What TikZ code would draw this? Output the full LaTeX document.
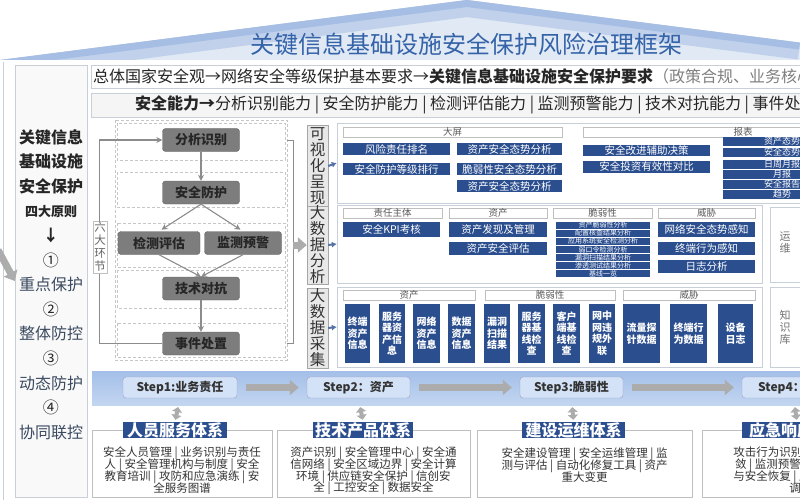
\documentclass[tikz,border=0pt]{standalone}
\usepackage{fontspec}
\setmainfont{Noto Sans CJK SC}
\usetikzlibrary{arrows.meta, positioning, calc}

\definecolor{barblue}{HTML}{2B4E8F}
\definecolor{roofblue}{HTML}{A6BEE3}
\definecolor{rooflight}{HTML}{E1E9F5}
\definecolor{titleblue}{HTML}{3463A8}
\definecolor{framegray}{HTML}{C9CFD8}
\definecolor{nodegray}{HTML}{7D7D7D}
\definecolor{linegray}{HTML}{8C8C8C}
\definecolor{stepblue}{HTML}{D3E2F6}
\definecolor{bandtop}{HTML}{A3BFE8}
\definecolor{bandbot}{HTML}{C3D6F1}
\definecolor{slate}{HTML}{3B4A60}
\newcommand{\fsz}[1]{\fontsize{#1}{#1}\selectfont}
% tight lines for stacked text
\newcommand{\tightfsz}[2]{\fontsize{#1}{#2}\selectfont\lineskiplimit=-30pt\lineskip=0pt}

\begin{document}
\begin{tikzpicture}[x=1pt, y=-1pt,
  flownode/.style = {draw=nodegray!80!black, fill=nodegray, rounded corners=3pt, minimum width=77pt, minimum height=23pt, inner sep=0pt, font=\fsz{13}\bfseries, text=black!85},
  flowarrow/.style = {-{Stealth[length=6pt,width=6pt]}, draw=linegray, line width=1.1pt},
  band/.style = {draw=gray!45, dash pattern=on 3pt off 2pt},
  bluebar/.style = {fill=barblue, text=white, inner sep=0pt, font=\fsz{10.5}},
  headbox/.style = {draw=gray!50, fill=white, inner sep=0pt, minimum height=10pt, font=\fsz{9.5}, text=black!65},
  sidelabel/.style = {draw=gray!70, fill=gray!18, inner sep=0pt, minimum width=21pt, align=center, font=\tightfsz{15.5}{16}, text=black!80},
  panel/.style = {draw=framegray, fill=white, inner sep=0pt},
  marker/.style = {-{Latex[length=5pt,width=6pt]}, draw=barblue!80, line width=2pt},
  fatarrow/.style = {-{Triangle[length=9pt,width=15pt]}, draw=gray!65, line width=7pt},
  stepbox/.style = {draw=blue!30!gray!60, fill=stepblue, rounded corners=3pt, minimum height=21pt, inner sep=0pt, font=\fsz{12}\bfseries, text=black!80},
  duoarrow/.style = {{Triangle[length=5pt,width=10pt]}-{Triangle[length=5pt,width=10pt]}, draw=gray!65, line width=4pt},
  sysbox/.style = {draw=gray!50, fill=white, inner sep=0pt},
  systag/.style = {fill=barblue, text=white, inner sep=0pt, minimum height=16pt, font=\fsz{16}\bfseries},
  systext/.style = {align=center, font=\tightfsz{11.5}{11.8}, text=black!80},
  sidetext/.style = {align=center, font=\tightfsz{11}{12}, text=black!55}
]
\useasboundingbox (0,0) rectangle (800,500);
\clip (0,0) rectangle (800,500);

% roof and title
\begin{scope}
  \clip (0,60) -- (467,0) -- (800,42.6) -- (800,60) -- cycle;
  \fill[rooflight] (0,0) rectangle (800,60);
  \draw[roofblue!55!rooflight, line width=34pt] (0,60) -- (467,0) -- (800,42.6);
  \draw[roofblue, line width=14pt] (0,60) -- (467,0) -- (800,42.6);
\end{scope}
\node[font=\fsz{24}, text=titleblue] (title) at (466,44) {关键信息基础设施安全保护风险治理框架};

% four principles
\draw[framegray] (3,62) -- (3,500);
\node[draw=framegray, fill=gray!5, minimum width=72pt, minimum height=432pt, inner sep=0pt] (principles) at (51,281) {};
\node[align=center, font=\fontsize{16}{24.6}\selectfont, text=black!85] (fourrules) at (51,284.5) {\textbf{关键信息}\\\textbf{基础设施}\\\textbf{安全保护}\\{\fontsize{13}{24.6}\selectfont\bfseries 四大原则}\\\textbf{↓}\\①\\\textcolor{slate}{重点保护}\\②\\\textcolor{slate}{整体防控}\\③\\\textcolor{slate}{动态防护}\\④\\\textcolor{slate}{协同联控}};
\coordinate (leftin) at (-2,250);
\draw[fatarrow] (leftin) -- (principles.west);

% policy and ability rows
\node[draw=framegray, fill=white, minimum width=719pt, minimum height=23pt, inner sep=0pt] (policyrow) at (450.5,76.5) {};
\node[anchor=west, font=\fsz{16}, inner sep=0pt, text=black!85] (policy) at (93,76.5) {总体国家安全观→网络安全等级保护基本要求→\textbf{关键信息基础设施安全保护要求}\textcolor{gray}{（政策合规、业务核心、风险管控）}};
\node[draw=framegray, fill=gray!8, minimum width=719pt, minimum height=24pt, inner sep=0pt] (abilityrow) at (450.5,105) {};
\node[anchor=west, font=\fsz{16}, inner sep=0pt, text=black!85] (ability) at (135,105) {\textbf{安全能力→}分析识别能力 | 安全防护能力 | 检测评估能力 | 监测预警能力 | 技术对抗能力 | 事件处置能力};

% six links
\draw[band] (115,120) rectangle (287,360);
\foreach \ya/\yb in {123/160, 172/207, 223/267, 270/308, 323/357}
  \draw[band] (117,\ya) rectangle (285,\yb);
\node[flownode] (identify) at (201,140) {分析识别};
\node[flownode] (protect) at (201,192.5) {安全防护};
\node[flownode, minimum width=82pt] (detect) at (159,243) {检测评估};
\node[flownode] (monitor) at (243,243) {监测预警};
\node[flownode] (counter) at (201,288.5) {技术对抗};
\node[flownode] (handle) at (201,343.5) {事件处置};
\draw[flowarrow] (identify) -- (protect);
\draw[flowarrow, shorten >=3pt] (protect.south) -- (detect.north);
\draw[flowarrow, shorten >=3pt] (protect.south) -- (monitor.north);
\draw[flowarrow] (detect.south) -- (counter.north);
\draw[flowarrow] (monitor.south) -- (counter.north);
\draw[flowarrow] (counter) -- (handle);
\draw[flowarrow] (handle.west) -- ++(-62.5,0) |- (identify.west);
\node[draw=gray!50, fill=white, align=center, font=\tightfsz{11.5}{13}, text=black!60, inner sep=1.5pt] (sixsteps) at (100,247) {六\\大\\环\\节};
\coordinate (brtop) at (287,140);
\coordinate (brbot) at (287,343);
\draw[linegray, line width=1pt] (brtop) -- ++(6,0) |- (brbot);
\coordinate (brmid) at (293,245);

% visual row
\node[sidelabel, minimum height=82pt] (visual) at (317.5,166) {可\\视\\化\\呈\\现};
\node[panel, minimum width=473pt, minimum height=80pt] (visualpanel) at (573.5,163) {};
\draw[marker] (visual.east) -- (visualpanel.west);
\node[headbox, minimum width=219pt] (screen) at (452.5,132) {大屏};
\node[headbox, minimum width=320pt] (report) at (743,132) {报表};
\node[bluebar, minimum width=107pt, minimum height=12pt] (v1) at (396.5,149) {风险责任排名};
\node[bluebar, minimum width=107pt, minimum height=12pt] (v2) at (396.5,169) {安全防护等级排行};
\node[bluebar, minimum width=105pt, minimum height=12pt] (v3) at (509.5,149) {资产安全态势分析};
\node[bluebar, minimum width=105pt, minimum height=12pt] (v4) at (509.5,169) {脆弱性安全态势分析};
\node[bluebar, minimum width=105pt, minimum height=12pt] (v5) at (509.5,186) {资产安全态势分析};
\node[bluebar, minimum width=127pt, minimum height=11pt] (v6) at (646.5,150) {安全改进辅助决策};
\node[bluebar, minimum width=127pt, minimum height=12pt] (v7) at (646.5,166.5) {安全投资有效性对比};
\foreach \y/\t [count=\i] in {141.5/资产态势, 152.5/安全态势, 164/日周月报, 174.5/月报, 184.5/安全报告, 194.5/趋势}
  \node[bluebar, minimum width=80pt, minimum height=9pt, font=\fsz{9}, anchor=west] (rep\i) at (723,\y) {\hspace*{38pt}\t};

% analysis row
\node[sidelabel, minimum height=76pt] (analysis) at (317.5,245) {大\\数\\据\\分\\析};
\draw[fatarrow] (brmid) -- (analysis.west);
\node[panel, minimum width=425pt, minimum height=78pt] (analysispanel) at (549.5,244) {};
\draw[marker] (analysis.east) -- (analysispanel.west);
\node[panel, minimum width=60pt, minimum height=75pt] (opspanel) at (800,244.5) {};
\node[sidetext] (ops) at (785,243) {运\\维};
\node[headbox, minimum width=99pt] (subject) at (392.5,213) {责任主体};
\node[headbox, minimum width=98pt] (assetb) at (498,213) {资产};
\node[headbox, minimum width=99pt] (vulnb) at (602.5,213) {脆弱性};
\node[headbox, minimum width=97pt] (threatb) at (706.5,213) {威胁};
\node[bluebar, minimum width=97pt, minimum height=15pt] (a1) at (391.5,229.5) {安全KPI考核};
\node[bluebar, minimum width=98pt, minimum height=15pt] (a2) at (498,229.5) {资产发现及管理};
\node[bluebar, minimum width=98pt, minimum height=13pt] (a3) at (498,248.5) {资产安全评估};
\foreach \t [count=\i] in {资产脆弱性分析, 配置核查结果分析, 应用系统安全检测分析, 弱口令检测分析, 漏洞扫描结果分析, 渗透测试结果分析, 基线一览}
  \node[bluebar, minimum width=94pt, minimum height=7.2pt, font=\fsz{7}] (vul\i) at (603,{217+\i*8.1}) {\t};
\node[bluebar, minimum width=97pt, minimum height=15pt] (a4) at (706.5,229.5) {网络安全态势感知};
\node[bluebar, minimum width=97pt, minimum height=13pt] (a5) at (706.5,248.5) {终端行为感知};
\node[bluebar, minimum width=97pt, minimum height=13pt] (a6) at (706.5,266.5) {日志分析};

% collection row
\node[sidelabel, minimum height=80pt] (collect) at (317.5,328) {大\\数\\据\\采\\集};
\node[panel, minimum width=425pt, minimum height=80pt] (collectpanel) at (549.5,327) {};
\draw[marker] (collect.east) -- (collectpanel.west);
\node[panel, minimum width=60pt, minimum height=80pt] (kbpanel) at (800,327) {};
\node[sidetext] (kb) at (785,327) {知\\识\\库};
\node[headbox, minimum width=132pt] (assetc) at (409,295) {资产};
\node[headbox, minimum width=130pt] (vulnc) at (550,295) {脆弱性};
\node[headbox, minimum width=132pt] (threatc) at (689,295) {威胁};
\foreach \cx/\w/\txt [count=\i] in {357.5/25/{终端\\资产\\信息}, 392/26/{服务\\器资\\产信\\息}, 426.5/27/{网络\\资产\\信息}, 461.5/27/{数据\\资产\\信息}, 497/26/{漏洞\\扫描\\结果}, 531.5/27/{服务\\器基\\线检\\查}, 566.5/27/{客户\\端基\\线检\\查}, 602/26/{网中\\网违\\规外\\联}, 641.5/37/{流量探\\针数据}, 688.5/37/{终端行\\为数据}, 735.5/35/{设备\\日志}}
  \node[bluebar, minimum width=\w pt, minimum height=59pt, align=center, font=\tightfsz{10}{11.5}\bfseries] (raw\i) at (\cx,333.5) {\txt};

% steps
\node[top color=bandtop, bottom color=bandbot, minimum width=718pt, minimum height=34pt, inner sep=0pt] (stepband) at (451,388) {};
\node[stepbox, minimum width=114pt] (step1) at (180,387.5) {Step1:业务责任};
\node[stepbox, minimum width=103pt] (step2) at (358.5,387.5) {Step2：资产};
\node[stepbox, minimum width=103pt] (step3) at (571.5,387.5) {Step3:脆弱性};
\node[stepbox, minimum width=103pt] (step4) at (793.5,387.5) {Step4：威胁};
\draw[fatarrow, shorten <=9pt, shorten >=8pt] (step1) -- (step2);
\draw[fatarrow, shorten <=9pt, shorten >=8pt] (step2) -- (step3);
\draw[fatarrow, shorten <=9pt, shorten >=8pt] (step3) -- (step4);

% four systems
\node[sysbox, minimum width=180pt, minimum height=67pt] (staffbox) at (182,463.5) {};
\node[sysbox, minimum width=193pt, minimum height=67pt] (techbox) at (373.5,463.5) {};
\node[sysbox, minimum width=215pt, minimum height=67pt] (buildbox) at (584.5,463.5) {};
\node[sysbox, minimum width=190pt, minimum height=67pt] (emerbox) at (797,463.5) {};
\node[systag, minimum width=104pt] (staff) at (175,430) {人员服务体系};
\node[systag, minimum width=100pt] (tech) at (363,430) {技术产品体系};
\node[systag, minimum width=103pt] (build) at (573.5,430) {建设运维体系};
\node[systag, minimum width=110pt] (emer) at (797,430) {应急响应体系};
\draw[duoarrow, shorten <=9pt, shorten >=2pt] (step1.south) -- (staff.north);
\draw[duoarrow, shorten <=9pt, shorten >=2pt] (step2.south) -- (tech.north);
\draw[duoarrow, shorten <=9pt, shorten >=2pt] (step3.south) -- (build.north);
\draw[duoarrow, shorten <=9pt, shorten >=2pt] (step4.south) -- (emer.north);
\node[systext] (stafftext) at (182,470) {安全人员管理 | 业务识别与责任\\人 | 安全管理机构与制度 | 安全\\教育培训 | 攻防和应急演练 | 安\\全服务图谱};
\node[systext] (techtext) at (373.5,471) {资产识别 | 安全管理中心 | 安全通\\信网络 | 安全区域边界 | 安全计算\\环境 | 供应链安全保护 | 信创安\\全 | 工控安全 | 数据安全};
\node[systext] (buildtext) at (584.5,465) {安全建设管理 | 安全运维管理 | 监\\测与评估 | 自动化修复工具 | 资产\\重大变更};
\node[systext] (emertext) at (795,470) {攻击行为识别和处置 | 收\\敛 | 监测预警 | 攻击溯源\\与安全恢复 | 应急指挥协\\调};
\end{tikzpicture}
\end{document}
